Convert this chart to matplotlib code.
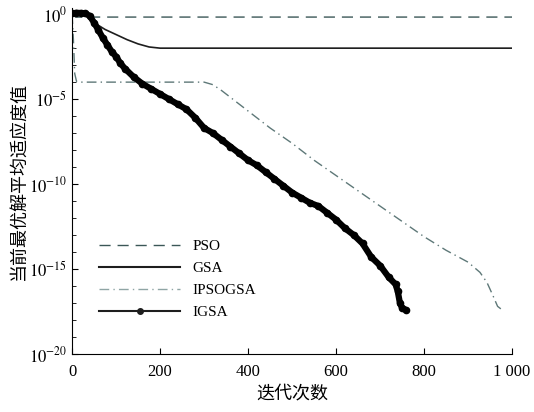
import matplotlib.pyplot as plt
import numpy as np
from matplotlib.ticker import FixedLocator, FixedFormatter, NullFormatter
from matplotlib.lines import Line2D

plt.rcParams['font.family'] = ['Liberation Serif', 'Noto Sans CJK SC']
plt.rcParams['mathtext.fontset'] = 'stix'

# PSO
pso_it = [0, 8, 1000]
pso_log = [0.0, -0.17, -0.17]

# GSA
gsa_it = [0, 30, 50, 75, 100, 125, 150, 175, 200, 1000]
gsa_log = [0.0, -0.05, -0.5, -0.9, -1.2, -1.5, -1.75, -1.93, -2.0, -2.0]

# IPSOGSA
ipso_it = [0, 3, 6, 10, 15, 300, 320, 340, 360, 400, 450, 500, 550, 600,
           650, 700, 750, 800, 850, 900, 927, 943, 957, 967, 977]
ipso_log = [0.0, -1.5, -3.5, -3.95, -4.0, -4.0, -4.15, -4.5, -4.9, -5.7,
            -6.7, -7.6, -8.6, -9.5, -10.4, -11.3, -12.2, -13.1, -13.9,
            -14.6, -15.2, -15.8, -16.6, -17.2, -17.4]

# IGSA
igsa_it = [0, 10, 20, 30, 40, 50, 60, 70, 80, 90, 100, 110, 120, 140, 160,
           180, 200, 220, 240, 260, 280, 300, 320, 340, 360, 380, 400, 420,
           440, 460, 480, 500, 520, 540, 560, 580, 600, 620, 640, 660, 680,
           700, 720, 735, 740, 745, 750, 758]
igsa_log = [0.05, 0.08, 0.07, 0.05, -0.1, -0.5, -0.95, -1.4, -1.8, -2.2,
            -2.5, -2.9, -3.2, -3.7, -4.1, -4.4, -4.7, -5.0, -5.3, -5.6,
            -6.1, -6.7, -7.0, -7.4, -7.8, -8.2, -8.6, -8.9, -9.3, -9.7,
            -10.1, -10.5, -10.8, -11.1, -11.3, -11.7, -12.1, -12.6, -13.0,
            -13.5, -14.3, -14.8, -15.5, -15.9, -16.3, -17.0, -17.3, -17.4]

fig = plt.figure(figsize=(5.34, 4.12), dpi=100)
ax = fig.add_axes([0.135, 0.141, 0.824, 0.839])

ax.semilogy(pso_it, 10.0 ** np.array(pso_log), color='#3b5757', ls=(0, (8, 5)), lw=1.0)
ax.semilogy(gsa_it, 10.0 ** np.array(gsa_log), color='#1e1e1e', lw=1.2)
ax.semilogy(ipso_it, 10.0 ** np.array(ipso_log), color='#5e7878', ls=(0, (7, 3, 1, 3)), lw=1.0)
ax.semilogy(igsa_it, 10.0 ** np.array(igsa_log), color='black', lw=4.5,
            marker='o', markersize=4.5, solid_joinstyle='round', solid_capstyle='round')

ax.set_xlim(0, 1000)
ax.set_ylim(1e-20, 10 ** 0.35)

ax.set_xticks([0, 200, 400, 600, 800, 1000])
ax.set_xticklabels(['0', '200', '400', '600', '800', '1 000'])
majors = [1e-20, 1e-15, 1e-10, 1e-5, 1e0]
ax.yaxis.set_major_locator(FixedLocator(majors))
ax.yaxis.set_major_formatter(FixedFormatter([r'$10^{-20}$', r'$10^{-15}$', r'$10^{-10}$',
                                             r'$10^{-5}$', r'$10^{0}$']))
ax.yaxis.set_minor_locator(FixedLocator([10.0 ** k for k in range(-20, 1) if k % 5 != 0]))
ax.yaxis.set_minor_formatter(NullFormatter())
ax.tick_params(which='both', direction='in', labelsize=12)
ax.tick_params(which='major', length=4)
ax.tick_params(which='minor', length=3)
ax.tick_params(axis='x', pad=7)

for s in ['top', 'right']:
    ax.spines[s].set_visible(False)

ax.set_xlabel('迭代次数', fontsize=13, labelpad=4)
ax.set_ylabel('当前最优解平均适应度值', fontsize=13, labelpad=1)

handles = [
    Line2D([], [], color='#3b5757', ls=(0, (8, 5)), lw=1.0),
    Line2D([], [], color='#1e1e1e', lw=1.5),
    Line2D([], [], color='#8fa5a5', ls=(0, (7, 3, 1, 3)), lw=1.0),
    Line2D([], [], color='#1e1e1e', lw=1.5, marker='o', markersize=4),
]
ax.legend(handles, ['PSO', 'GSA', 'IPSOGSA', 'IGSA'], loc='lower left',
          bbox_to_anchor=(0.03, 0.06), frameon=False, fontsize=11,
          handlelength=5.3, labelspacing=0.55, numpoints=1)

plt.savefig('out.png', dpi=100)
